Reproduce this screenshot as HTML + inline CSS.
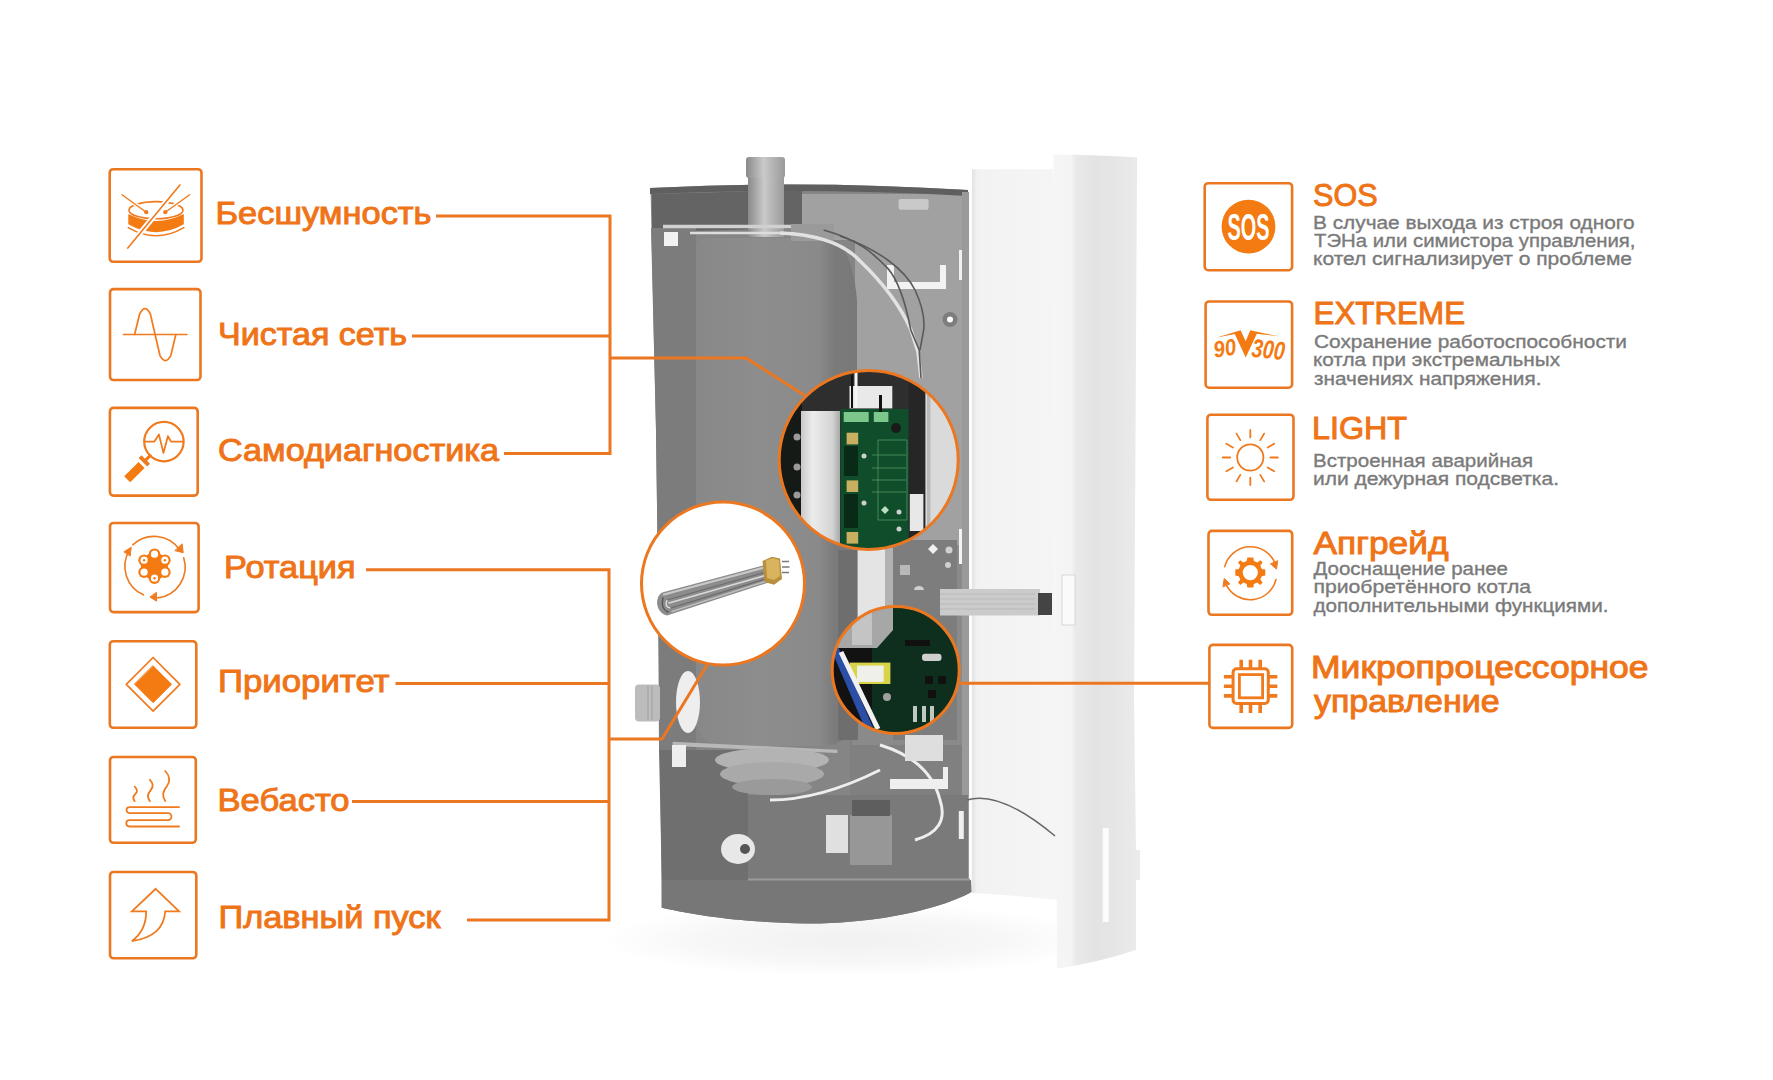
<!DOCTYPE html>
<html><head><meta charset="utf-8">
<style>
html,body{margin:0;padding:0;background:#fff;width:1773px;height:1080px;overflow:hidden}
svg{display:block}
.t{font-family:"Liberation Sans",sans-serif}
</style></head>
<body>
<svg width="1773" height="1080" viewBox="0 0 1773 1080">
<defs>
  <linearGradient id="doorL" x1="0" x2="1" y1="0" y2="0">
    <stop offset="0" stop-color="#e2e2e2"/><stop offset="0.06" stop-color="#f2f2f2"/><stop offset="1" stop-color="#f5f5f5"/>
  </linearGradient>
  <linearGradient id="doorR" x1="0" x2="1" y1="0" y2="0">
    <stop offset="0" stop-color="#f5f5f5"/><stop offset="0.2" stop-color="#f4f4f4"/><stop offset="0.26" stop-color="#e9e9e9"/><stop offset="0.5" stop-color="#e3e3e3"/><stop offset="0.72" stop-color="#e6e6e6"/><stop offset="1" stop-color="#ebebeb"/>
  </linearGradient>
  <linearGradient id="pipe" x1="0" x2="1" y1="0" y2="0">
    <stop offset="0" stop-color="#8a8a8a"/><stop offset="0.45" stop-color="#c9c9c9"/><stop offset="1" stop-color="#9a9a9a"/>
  </linearGradient>
  <radialGradient id="shadow" cx="0.5" cy="0.5" r="0.5">
    <stop offset="0" stop-color="#f1f1f1"/><stop offset="0.6" stop-color="#f7f7f7"/><stop offset="1" stop-color="#ffffff"/>
  </radialGradient>
  <linearGradient id="hs" x1="0" x2="1" y1="0" y2="0">
    <stop offset="0" stop-color="#c9c9c9"/><stop offset="0.3" stop-color="#ececec"/><stop offset="0.8" stop-color="#d4d4d4"/><stop offset="1" stop-color="#a9a9a9"/>
  </linearGradient>
  <linearGradient id="tank" x1="0" x2="1" y1="0" y2="0">
    <stop offset="0" stop-color="#888888"/><stop offset="0.4" stop-color="#8d8d8d"/><stop offset="0.76" stop-color="#8a8a8a"/><stop offset="0.86" stop-color="#7b7b7b"/><stop offset="1" stop-color="#787878"/>
  </linearGradient>
  <clipPath id="c1"><circle cx="868.7" cy="460" r="89.5"/></clipPath>
  <clipPath id="c2"><circle cx="723" cy="583.5" r="81.5"/></clipPath>
  <clipPath id="c3"><circle cx="895.7" cy="670" r="63.5"/></clipPath>
</defs>

<!-- ===== BOILER ===== -->
<g id="boiler">
  <ellipse cx="850" cy="940" rx="250" ry="36" fill="url(#shadow)"/>
  <!-- back body base -->
  <path d="M650.5,188 Q809,180 968,190 L971.6,892 C930,914 860,924 806,923.5 C740,922 700,916 661.7,907.7 L658,580 L656,430 Z" fill="#858585"/>
  <!-- right back panel (textured light) -->
  <path d="M802,194 L966,194 L966,545 L855,545 L855,240 L802,240 Z" fill="#a1a1a1"/>
  <rect x="850" y="740" width="116" height="60" fill="#808080"/>
  <!-- top inner dark area left of pipe -->
  <path d="M652,194 L802,190 L802,228 L652,232 Z" fill="#646464"/>
  <rect x="898.6" y="199" width="30" height="10.7" rx="2" fill="#c9c9c9"/>
  <!-- top rim -->
  <path d="M650,188 Q809,180 968,190 L968,196 Q809,187 650,194 Z" fill="#5f5f5f"/>
  <!-- left strip -->
  <path d="M651,228 L696,228 L696,750 L659,750 L658,580 L656,430 Z" fill="#7c7c7c"/>
  <!-- tank -->
  <path d="M696,248 Q696,238 708,238 L830,238 Q852,246 857,300 L857,715 Q852,746 820,746 L722,746 Q697,744 696,715 Z" fill="url(#tank)"/>
  <!-- PCB area right panel lower -->
  <rect x="852" y="545" width="114" height="200" fill="#8a8a8a"/>
  <rect x="838" y="550" width="20" height="190" fill="#6e6e6e"/>
  <rect x="857.6" y="548" width="28" height="70" fill="#e4e4e4"/>
  <rect x="885" y="548" width="8" height="70" fill="#b2b2b2"/>
  <rect x="893" y="540" width="64" height="200" fill="#7d7d7d"/>
  <rect x="959" y="529" width="8.5" height="35" fill="#f4f4f4"/>
  <path d="M933,544 l5,5 l-5,5 l-5,-5 Z" fill="#f0f0f0"/>
  <circle cx="949" cy="550" r="3.5" fill="#d0d0d0"/><circle cx="948" cy="565" r="3" fill="#d0d0d0"/>
  <rect x="900" y="565" width="10" height="10" fill="#b9b9b9"/>
  <path d="M914,590 a5,4 0 0 1 10,0 Z" fill="#cfcfcf"/>
  <!-- L bracket top right -->
  <path d="M887,265 L894,265 L894,282 L940,282 L940,265 L946,265 L946,289 L887,289 Z" fill="#f2f2f2"/>
  <rect x="959" y="250" width="8" height="30" fill="#f0f0f0"/>
  <circle cx="950" cy="319.5" r="7.5" fill="#7d7d7d"/><circle cx="950" cy="319.5" r="3" fill="#fff"/>
  <!-- panel right edge -->
  <rect x="962" y="192" width="7" height="700" fill="#9a9a9a"/><rect x="969" y="190" width="3" height="703" fill="#fbfbfb"/>
  <!-- left wall lower + bottom -->
  <path d="M659,750 L748,750 L748,880 L662,880 Z" fill="#6f6f6f"/>
  <rect x="748" y="795" width="220" height="86" fill="#7a7a7a"/>
  <path d="M662,880 L971,880 L971.6,892 C930,914 860,924 806,923.5 C740,922 700,916 661.7,907.7 Z" fill="#777777"/>
  <rect x="748" y="878.5" width="222" height="2" fill="#9b9b9b"/>
  <!-- mounting plate + flange -->
  <path d="M672.6,741.8 L837.4,749.7 L837.4,753 L672.6,746 Z" fill="#b8b8b8"/>
  <rect x="672" y="745" width="14" height="22" fill="#eeeeee"/>
  <ellipse cx="772" cy="760" rx="57" ry="12" fill="#b3b3b3"/>
  <ellipse cx="772" cy="774" rx="52" ry="12" fill="#a9a9a9"/>
  <ellipse cx="772" cy="787" rx="40" ry="8" fill="#9a9a9a"/>
  <!-- top pipe -->
  <rect x="748" y="177" width="36" height="60" fill="url(#pipe)"/>
  <rect x="746" y="157" width="39" height="21" rx="3" fill="url(#pipe)"/>
  <!-- rods / wires -->
  <path d="M663,226.5 L791,226.5" stroke="#d0d0d0" stroke-width="3.5" fill="none"/>
  <path d="M690,233 L783,233" stroke="#dcdcdc" stroke-width="2.5" fill="none"/>
  <rect x="664" y="232" width="14" height="14" fill="#f2f2f2"/>
  <path d="M791,224 L834,224 L834,241 L791,241 Z" fill="#9a9a9a"/>
  <path d="M780,233 C830,235 850,250 860,261 C880,280 900,305 911,330 L918,352 L921,378" fill="none" stroke="#e2e2e2" stroke-width="3.5"/>
  <path d="M823.6,230 C860,240 875,255 888,268.6 C898,280 905,300 910.8,330 L919.2,350 L921,378" fill="none" stroke="#5a5a5a" stroke-width="1.6"/>
  <path d="M840,236 C880,250 905,270 915,290 C922,305 925,318 923.7,330 L920,350" fill="none" stroke="#5a5a5a" stroke-width="1.6"/>
  <path d="M880,745 Q930,760 940,800 Q950,830 915,840" fill="none" stroke="#eeeeee" stroke-width="3"/>
  <path d="M770,800 Q820,800 880,770" fill="none" stroke="#eeeeee" stroke-width="3"/>
  <!-- side fitting -->
  <rect x="635" y="684.5" width="25" height="37" rx="4" fill="#bcbcbc"/><path d="M648,686 V720 M652,686 V720" stroke="#a5a5a5" stroke-width="1.2"/>
  <ellipse cx="688" cy="702" rx="12" ry="31" fill="#eeeeee"/>
  <!-- cable gland, labels, terminals -->
  <ellipse cx="738" cy="849" rx="17" ry="15" fill="#e8e8e8"/>
  <circle cx="745" cy="849" r="5" fill="#555"/>
  <rect x="826" y="815" width="22" height="38" fill="#e0e0e0"/>
  <rect x="850" y="815" width="42" height="50" fill="#979797"/><rect x="852" y="800" width="38" height="16" fill="#5e5e5e"/>
  <rect x="905" y="735" width="38" height="26" fill="#dedede"/>
  <path d="M890,779 L943,779 L943,767 L948,767 L948,789 L890,789 Z" fill="#efefef"/>
  <rect x="958.8" y="811" width="5" height="28" fill="#efefef"/>
  <!-- door -->
  <path d="M972,169.3 L1053.6,169.3 L1057,900 Q1010,895 972,893 Z" fill="url(#doorL)"/>
  <path d="M1053.6,154.6 Q1100,155 1137.1,157.4 L1134,700 L1136,850 L1140,850 L1140,880 L1136,880 L1136,950 Q1100,962 1057,968.7 Z" fill="url(#doorR)"/>
  <rect x="1102.7" y="828" width="6" height="94" fill="#fcfcfc"/>
  <!-- ribbon -->
  <path d="M940,589 L1040,589 L1040,615.4 L940,615.4 Z" fill="#cbcbcb"/><path d="M940,594 H1035 M940,599 H1035 M940,604 H1035 M940,609 H1035" stroke="#b5b5b5" stroke-width="0.8"/>
  <rect x="1038" y="593" width="14" height="22" fill="#444"/>
  <rect x="1062" y="575" width="13" height="50" fill="#fafafa" stroke="#cfcfcf" stroke-width="0.8"/>
  <path d="M967,800 Q1000,790 1055,836" fill="none" stroke="#666" stroke-width="1.5"/>
</g>
<!-- ===== LINES ===== -->
<g stroke="#EC7721" stroke-width="3" fill="none">
  <path d="M436,216 H610 V453.5 H504"/>
  <path d="M412,336 H610"/>
  <path d="M610,358 H746 L804,395"/>
  <path d="M366,569.8 H609 V920 H467"/>
  <path d="M395.5,683.6 H609"/>
  <path d="M352,801.5 H609"/>
  <path d="M609,739 H662 L707,665"/>
  <path d="M960,683.3 H1209"/>
</g>

<!-- ===== CIRCLES ===== -->
<g id="circ1">
  <circle cx="868.7" cy="460" r="89.5" fill="#2e2e2e"/>
  <g clip-path="url(#c1)">
    <rect x="776" y="365" width="26" height="200" fill="#151a17"/>
    <circle cx="797" cy="437" r="3.5" fill="#9a9a9a"/><circle cx="797" cy="467" r="3.5" fill="#9a9a9a"/><circle cx="797" cy="495" r="3.5" fill="#9a9a9a"/>
    <rect x="801" y="411" width="39" height="150" fill="url(#hs)"/>
    <rect x="840.7" y="409" width="68" height="152" fill="#0f4d2b"/>
    <path d="M878,440 H907 V520 H878 Z M872,455 H906 M872,468 H906 M872,480 H906 M872,492 H906" fill="none" stroke="#4f9a62" stroke-width="0.8"/>
    <rect x="843.7" y="412" width="25" height="10" fill="#7cc78c"/>
    <rect x="873.8" y="412" width="14.6" height="10" fill="#7cc78c"/>
    <rect x="846.6" y="432.7" width="11.6" height="11.7" fill="#c8b060"/>
    <rect x="846.6" y="480.4" width="11.6" height="11.6" fill="#c8b060"/>
    <rect x="846.6" y="532" width="11.6" height="11.6" fill="#c8b060"/>
    <rect x="844" y="446" width="14" height="30" fill="#0a2a18"/>
    <rect x="844" y="494" width="14" height="34" fill="#0a2a18"/>
    <circle cx="896" cy="428" r="5" fill="#1a1a1a"/>
    <circle cx="864" cy="456" r="2.5" fill="#cfcfcf"/><circle cx="864" cy="503" r="2.5" fill="#cfcfcf"/>
    <circle cx="899" cy="512" r="2.5" fill="#cfcfcf"/><circle cx="899" cy="529" r="2.5" fill="#cfcfcf"/>
    <path d="M881,510 l4,-4 l4,4 l-4,4 Z" fill="#b8e0c0"/>
    <rect x="908.8" y="380" width="17" height="180" fill="#262626"/>
    <rect x="925.4" y="365" width="35" height="200" fill="#dadada"/>
    <rect x="927" y="365" width="3.5" height="200" fill="#b9b9b9"/>
    <rect x="909.8" y="494" width="13.6" height="37" fill="#e8e8e8"/>
    <rect x="849.5" y="386" width="42.8" height="22.4" fill="#e9e9e9"/>
    <rect x="854.5" y="370" width="3" height="38" fill="#f5f5f5"/>
    <rect x="851" y="375" width="2" height="33" fill="#111"/>
    <rect x="879" y="395" width="3" height="17" fill="#111"/>
  </g>
  <circle cx="868.7" cy="460" r="89.5" fill="none" stroke="#EC7721" stroke-width="3"/>
</g>
<g id="circ2">
  <circle cx="723" cy="583.5" r="81.5" fill="#fff" stroke="#EC7721" stroke-width="3"/>
  <path d="M767,564.5 L663,592.2 C655,595 654,612 667,615.6 L768.4,582.6 Z" fill="#8c8c8c"/>
  <g fill="none" stroke-linecap="round">
    <path d="M664,594.5 L766,567" stroke="#c9c9c9" stroke-width="2.2"/>
    <path d="M667,600 L766,572" stroke="#6e6e6e" stroke-width="1.2"/>
    <path d="M669,603 L767,575" stroke="#d8d8d8" stroke-width="1.6"/>
    <path d="M671,608 L767,578.5" stroke="#6a6a6a" stroke-width="1.2"/>
    <path d="M672,611.5 L767,581" stroke="#bdbdbd" stroke-width="1.6"/>
    <path d="M663,598 C661,606 663,610 668,612" stroke="#555" stroke-width="1.4"/>
    <path d="M667,600.5 C665,604 666,607 670,608" stroke="#e8e8e8" stroke-width="1.2"/>
  </g>
  <path d="M762.5,561 L772,556.8 L780,558.5 L782,579 L774,584.8 L764.5,582 Z" fill="#b88f3e"/>
  <path d="M766,560.5 L773,558 L779,560 L780,576 L774,580 L767,578 Z" fill="#d9b45f"/>
  <path d="M782,561.5 h7 M782,567 h7.5 M782,572.5 h7" stroke="#7a7a7a" stroke-width="1.6"/>
</g>
<g id="circ3">
  <circle cx="895.7" cy="670" r="63.5" fill="#0e2f1d"/>
  <g clip-path="url(#c3)">
    <path d="M830,600 L893,600 L893,630 L877,648 L830,648 Z" fill="#a7a7a7"/>
    <path d="M852,605 L872,605 L872,645 L852,645 Z" fill="#c4c4c4"/>
    <path d="M830,648 L872,648 L872,740 L830,740 Z" fill="#121212"/>
    <rect x="849.6" y="662.6" width="40.8" height="21.4" fill="#d9d34a"/>
    <rect x="857" y="665.6" width="26.7" height="16.3" fill="#f0f0ea"/>
    <path d="M835,649 L869,728" stroke="#2b4ea6" stroke-width="7.5"/>
    <path d="M841,652 L878,729" stroke="#f2f2f2" stroke-width="5"/>
    <rect x="922" y="653.7" width="19.5" height="7.3" rx="3" fill="#cfcfcf"/>
    <rect x="905" y="640" width="25" height="6" fill="#111"/>
    <rect x="925" y="676" width="8" height="8" fill="#111"/><rect x="938" y="676" width="8" height="8" fill="#111"/>
    <rect x="928" y="690" width="8" height="8" fill="#111"/>
    <rect x="913" y="706" width="4" height="16" fill="#bfc9c2"/><rect x="922" y="706" width="4" height="16" fill="#bfc9c2"/><rect x="930" y="706" width="4" height="16" fill="#bfc9c2"/>
    <circle cx="887" cy="697" r="4" fill="#a0a0a0"/>
  </g>
  <circle cx="895.7" cy="670" r="63.5" fill="none" stroke="#EC7721" stroke-width="3"/>
</g>

<!-- ===== LEFT BOXES ===== -->
<g fill="none" stroke="#EC7721" stroke-width="2.6">
  <rect x="109.7" y="169.2" width="91.8" height="92.6" rx="3.5"/>
  <rect x="110" y="289.1" width="90.5" height="90.9" rx="3.5"/>
  <rect x="109.9" y="407.9" width="87.8" height="87.7" rx="3.5"/>
  <rect x="110" y="523" width="88.6" height="89.1" rx="3.5"/>
  <rect x="109.8" y="641.2" width="86.5" height="86.6" rx="3.5"/>
  <rect x="110" y="757" width="85.8" height="85.8" rx="3.5"/>
  <rect x="110" y="872" width="86.3" height="86.3" rx="3.5"/>
</g>
<!-- ===== RIGHT BOXES ===== -->
<g fill="none" stroke="#EC7721" stroke-width="2.6">
  <rect x="1204.7" y="183.2" width="87.4" height="87" rx="3.5"/>
  <rect x="1205.6" y="301.5" width="86.5" height="86.2" rx="3.5"/>
  <rect x="1207.4" y="414.7" width="86.1" height="85.1" rx="3.5"/>
  <rect x="1208.5" y="530.9" width="83.7" height="83.9" rx="3.5"/>
  <rect x="1209.4" y="644.9" width="82.8" height="83" rx="3.5"/>
</g>

<!-- ===== TEXT ===== -->
<g class="t">
  <text x="215.5" y="224.4" font-size="31.3" fill="#EF7418" stroke="#EF7418" stroke-width="0.95" textLength="216.05" lengthAdjust="spacingAndGlyphs">Бесшумность</text>
  <text x="218.0" y="345.1" font-size="31.3" fill="#EF7418" stroke="#EF7418" stroke-width="0.95" textLength="189.03" lengthAdjust="spacingAndGlyphs">Чистая сеть</text>
  <text x="218.0" y="460.7" font-size="31.3" fill="#EF7418" stroke="#EF7418" stroke-width="0.95" textLength="281.01" lengthAdjust="spacingAndGlyphs">Самодиагностика</text>
  <text x="224.0" y="578.2" font-size="31.3" fill="#EF7418" stroke="#EF7418" stroke-width="0.95" textLength="131.61" lengthAdjust="spacingAndGlyphs">Ротация</text>
  <text x="218.0" y="692" font-size="31.3" fill="#EF7418" stroke="#EF7418" stroke-width="0.95" textLength="171.53" lengthAdjust="spacingAndGlyphs">Приоритет</text>
  <text x="217.5" y="811.2" font-size="31.3" fill="#EF7418" stroke="#EF7418" stroke-width="0.95" textLength="132.1" lengthAdjust="spacingAndGlyphs">Вебасто</text>
  <text x="218.5" y="927.8" font-size="31.3" fill="#EF7418" stroke="#EF7418" stroke-width="0.95" textLength="222.02" lengthAdjust="spacingAndGlyphs">Плавный пуск</text>
  <text x="1313.0" y="205.8" font-size="31.5" fill="#EF7418" stroke="#EF7418" stroke-width="0.95" textLength="64.56" lengthAdjust="spacingAndGlyphs">SOS</text>
  <text x="1313.5" y="323.7" font-size="31.5" fill="#EF7418" stroke="#EF7418" stroke-width="0.95" textLength="151.56" lengthAdjust="spacingAndGlyphs">EXTREME</text>
  <text x="1312.0" y="438.8" font-size="31.5" fill="#EF7418" stroke="#EF7418" stroke-width="0.95" textLength="95.05" lengthAdjust="spacingAndGlyphs">LIGHT</text>
  <text x="1313.5" y="554.4" font-size="31.3" fill="#EF7418" stroke="#EF7418" stroke-width="0.95" textLength="135.0" lengthAdjust="spacingAndGlyphs">Апгрейд</text>
  <text x="1311.0" y="677.5" font-size="31" fill="#EF7418" stroke="#EF7418" stroke-width="0.95" textLength="337.53" lengthAdjust="spacingAndGlyphs">Микропроцессорное</text>
  <text x="1314.0" y="711.6" font-size="31" fill="#EF7418" stroke="#EF7418" stroke-width="0.95" textLength="185.5" lengthAdjust="spacingAndGlyphs">управление</text>
  <text x="1313.0" y="228.7" font-size="18.9" fill="#7a7a7a" stroke="#7a7a7a" stroke-width="0.35" textLength="321.51" lengthAdjust="spacingAndGlyphs">В случае выхода из строя одного</text>
  <text x="1314.0" y="246.9" font-size="18.9" fill="#7a7a7a" stroke="#7a7a7a" stroke-width="0.35" textLength="321.51" lengthAdjust="spacingAndGlyphs">ТЭНа или симистора управления,</text>
  <text x="1313.0" y="265.2" font-size="18.9" fill="#7a7a7a" stroke="#7a7a7a" stroke-width="0.35" textLength="319.01" lengthAdjust="spacingAndGlyphs">котел сигнализирует о проблеме</text>
  <text x="1314.0" y="347.7" font-size="18.9" fill="#7a7a7a" stroke="#7a7a7a" stroke-width="0.35" textLength="313.01" lengthAdjust="spacingAndGlyphs">Сохранение работоспособности</text>
  <text x="1313.0" y="366" font-size="18.9" fill="#7a7a7a" stroke="#7a7a7a" stroke-width="0.35" textLength="247.01" lengthAdjust="spacingAndGlyphs">котла при экстремальных</text>
  <text x="1314.0" y="384.7" font-size="18.9" fill="#7a7a7a" stroke="#7a7a7a" stroke-width="0.35" textLength="227.52" lengthAdjust="spacingAndGlyphs">значениях напряжения.</text>
  <text x="1313.0" y="466.6" font-size="18.9" fill="#7a7a7a" stroke="#7a7a7a" stroke-width="0.35" textLength="220.02" lengthAdjust="spacingAndGlyphs">Встроенная аварийная</text>
  <text x="1313.0" y="484.8" font-size="18.9" fill="#7a7a7a" stroke="#7a7a7a" stroke-width="0.35" textLength="246.03" lengthAdjust="spacingAndGlyphs">или дежурная подсветка.</text>
  <text x="1313.5" y="574.7" font-size="18.9" fill="#7a7a7a" stroke="#7a7a7a" stroke-width="0.35" textLength="194.5" lengthAdjust="spacingAndGlyphs">Дооснащение ранее</text>
  <text x="1313.5" y="592.6" font-size="18.9" fill="#7a7a7a" stroke="#7a7a7a" stroke-width="0.35" textLength="217.51" lengthAdjust="spacingAndGlyphs">приобретённого котла</text>
  <text x="1313.5" y="611.9" font-size="18.9" fill="#7a7a7a" stroke="#7a7a7a" stroke-width="0.35" textLength="295.0" lengthAdjust="spacingAndGlyphs">дополнительными функциями.</text>
</g>

<!-- ===== ICONS ===== -->
<g fill="none" stroke="#F07A1E" stroke-linecap="round" stroke-linejoin="round">
  <!-- 1 drum -->
  <g transform="translate(108.4,168)">
    <path d="M19.9,46.1 Q47.6,60 75.4,46.1 L75.4,56.3 Q47.6,72 19.9,56.3 Z" fill="#F47A12" stroke="none"/>
    <path d="M19.9,59.6 Q47.6,76 75.4,59.6" stroke-width="1.6"/>
    <ellipse cx="47.6" cy="42.2" rx="27" ry="8.6" stroke-width="1.6"/>
    <path d="M13.6,26.7 L37.9,44.2 M81.2,26.7 L56.9,44.2" stroke="#fff" stroke-width="4"/>
    <path d="M13.6,26.7 L37.9,44.2 M81.2,26.7 L56.9,44.2" stroke-width="1.4"/>
    <circle cx="37.9" cy="44.2" r="2.1" fill="#F07A1E" stroke="none"/>
    <circle cx="56.9" cy="44.2" r="2.1" fill="#F07A1E" stroke="none"/>
    <path d="M71.5,16.9 L19.4,80.1" stroke="#fff" stroke-width="5.5"/>
    <path d="M71.5,16.9 L19.4,80.1" stroke-width="1.6"/>
  </g>
  <!-- 2 sine -->
  <g transform="translate(108.7,287.8)" stroke-width="1.7">
    <path d="M14.8,46.7 H78.2"/>
    <path d="M25.9,46.7 L31,26 Q36.3,15.5 41.6,26 L51.2,67.5 Q56.7,78 62.2,67.5 L67.1,46.7"/>
  </g>
  <!-- 3 magnifier -->
  <g transform="translate(108.6,406.6)">
    <circle cx="55.3" cy="35" r="19.7" stroke-width="2.2"/>
    <path d="M36.4,35 H45.8 L50.3,27.8 L54.8,46.3 L59.3,29.6 L62.4,35 H74.1" stroke-width="1.8"/>
    <path d="M41.5,49 L36.5,54" stroke-width="3"/>
    <path d="M31.5,50 L40,58.5" stroke-width="4" stroke-linecap="butt"/>
    <path d="M33,58.3 L18.6,72.7" stroke-width="8.5" stroke-linecap="butt" stroke="#F47A12"/>
  </g>
  <!-- 4 rotation -->
  <g transform="translate(108.7,521.7)">
    <g fill="#F47A12" stroke="none">
      <circle cx="45.8" cy="44.5" r="13.5"/>
      <circle cx="45.8" cy="32.5" r="5.8"/>
      <circle cx="56.2" cy="38.5" r="5.8"/>
      <circle cx="56.2" cy="50.5" r="5.8"/>
      <circle cx="45.8" cy="56.5" r="5.8"/>
      <circle cx="35.4" cy="50.5" r="5.8"/>
      <circle cx="35.4" cy="38.5" r="5.8"/>
    </g>
    <g fill="#fff" stroke="none">
      <circle cx="45.8" cy="32.5" r="3.6"/>
      <circle cx="56.2" cy="38.5" r="3.6"/>
      <circle cx="56.2" cy="50.5" r="3.6"/>
      <circle cx="45.8" cy="56.5" r="3.6"/>
      <circle cx="35.4" cy="50.5" r="3.6"/>
      <circle cx="35.4" cy="38.5" r="3.6"/>
    </g>
    <g fill="#F47A12" stroke="none">
      <circle cx="56.2" cy="38.5" r="1.2"/>
      <circle cx="45.8" cy="56.5" r="1.2"/>
      <circle cx="35.4" cy="38.5" r="1.2"/>
    </g>
    <path d="M24.1,23.1 A31,31 0 0 1 70.5,27.5" stroke-width="1.6"/>
    <path d="M75,36.1 A31,31 0 0 1 49,76.2" stroke-width="1.6"/>
    <path d="M34.7,73.1 A31,31 0 0 1 20.5,29" stroke-width="1.6"/>
    <path d="M73.5,22.5 L74.5,31 L66.5,29 Z" fill="#F07A1E" stroke-width="1"/>
    <path d="M47.7,71 L47.9,79.5 L41.5,75.5 Z" fill="#F07A1E" stroke-width="1"/>
    <path d="M15.5,30 L22.5,25.5 L21.5,34 Z" fill="#F07A1E" stroke-width="1"/>
  </g>
  <!-- 5 priority -->
  <g transform="translate(108.5,639.9)">
    <path d="M44.6,17.6 L71.4,44.4 L44.6,71.2 L17.8,44.4 Z" stroke-width="1.7"/>
    <path d="M44.6,26 L63,44.4 L44.6,62.8 L26.2,44.4 Z" fill="#F47A12" stroke="#F47A12" stroke-width="1"/>
  </g>
  <!-- 6 webasto -->
  <g transform="translate(108.7,755.7)" stroke-width="1.8">
    <path d="M70.4,51.4 H20.8 A3,3 0 0 0 20.8,57.4 H59.3 A3.5,3.5 0 0 1 59.3,64.4 H20.8 A3.2,3.2 0 0 0 20.8,70.8 H70.4"/>
    <path d="M26,31 C29,34 29,36 26.5,38.5 C24,41 24,43 26,45.4"/>
    <path d="M41.2,24.1 C45,28 45,31 42,34.5 C38.5,38.5 38.5,42 41.2,45.4"/>
    <path d="M56.5,15.3 C61,20 62,25 58.5,30 C54,36 53,40 56.5,45.4"/>
  </g>
  <!-- 7 arrow -->
  <g transform="translate(108.7,870.7)" stroke-width="1.8" stroke-linejoin="miter">
    <path d="M47,18.1 L70.4,40.6 L56.5,40.6 Q55,66 23.2,70.4 Q37.5,60 37.5,40.6 L23.2,40.6 Z"/>
  </g>
  <!-- R1 SOS -->
  <g transform="translate(1203.4,181.9)">
    <circle cx="45.1" cy="44.7" r="26.9" fill="#F47A12" stroke="none"/>
    <text x="45.1" y="57.8" text-anchor="middle" class="t" font-weight="700" font-size="36" fill="#fff" stroke="none" textLength="42" lengthAdjust="spacingAndGlyphs">SOS</text>
  </g>
  <!-- R2 90V300 -->
  <g transform="translate(1204.3,300.2)" fill="#F47A12" stroke="none">
    <path d="M11.8,37.5 L36.3,30.1 L41.4,41 L46,30.1 L74.3,36.1 L52.5,33.6 L41.4,57.4 L30.5,33.9 Z"/>
    <text x="0" y="0" transform="translate(10.5,57.6) rotate(-9)" class="t" font-weight="700" font-style="italic" font-size="23" textLength="22.5" lengthAdjust="spacingAndGlyphs">90</text>
    <text x="0" y="0" transform="translate(46.8,56.5) rotate(6)" class="t" font-weight="700" font-style="italic" font-size="26" textLength="33" lengthAdjust="spacingAndGlyphs">300</text>
  </g>
  <!-- R3 sun -->
  <g transform="translate(1206.1,413.4)" stroke-width="1.8">
    <circle cx="44.2" cy="44.1" r="13.1"/>
    <g id="rays">
      <path d="M44.2,16.5 V24 M44.2,64.2 V71.7 M16.6,44.1 H24.1 M64.3,44.1 H71.8"/>
      <path d="M30.4,20.2 L34.2,26.7 M54.2,61.5 L58,68 M20.3,30.3 L26.8,34.1 M61.6,54.1 L68.1,57.9"/>
      <path d="M58,20.2 L54.2,26.7 M34.2,61.5 L30.4,68 M68.1,30.3 L61.6,34.1 M26.8,54.1 L20.3,57.9"/>
    </g>
  </g>
  <!-- R4 gear -->
  <g transform="translate(1207.2,529.6)">
    <g transform="translate(43.1,43)" fill="#F47A12" stroke="none">
      <path id="gear" d="M-3,-15 H3 L3.6,-11.5 L7,-10 L10,-12.3 L12.3,-10 L10,-7 L11.5,-3.6 L15,-3 V3 L11.5,3.6 L10,7 L12.3,10 L10,12.3 L7,10 L3.6,11.5 L3,15 H-3 L-3.6,11.5 L-7,10 L-10,12.3 L-12.3,10 L-10,7 L-11.5,3.6 L-15,3 V-3 L-11.5,-3.6 L-10,-7 L-12.3,-10 L-10,-12.3 L-7,-10 L-3.6,-11.5 Z M7.6,0 A7.6,7.6 0 1 0 -7.6,0 A7.6,7.6 0 1 0 7.6,0 Z" fill-rule="evenodd"/>
    </g>
    <path d="M17.5,37 A26.6,26.6 0 0 1 68,34" stroke-width="1.6"/>
    <path d="M68.8,50 A26.6,26.6 0 0 1 19,55" stroke-width="1.6"/>
    <path d="M70.5,31.5 L69.3,39.5 L63.5,34.5 Z" fill="#F07A1E" stroke-width="1"/>
    <path d="M15.8,57 L17,49 L22.5,54 Z" fill="#F07A1E" stroke-width="1"/>
  </g>
  <!-- R5 chip -->
  <g transform="translate(1208.1,643.6)" stroke-linecap="butt" stroke-linejoin="miter">
    <rect x="25" y="25.2" width="35.2" height="34.7" rx="3.5" stroke-width="3"/>
    <rect x="31.3" y="31" width="23.2" height="23.2" stroke-width="2.8"/>
    <path d="M33.1,16.2 V25 M42.4,16.2 V25 M52.1,16.2 V25 M33.1,60.5 V69.4 M42.4,60.5 V69.4 M52.1,60.5 V69.4 M15.8,33.1 H24.5 M15.8,42.7 H24.5 M15.8,52.3 H24.5 M60.8,33.1 H69.2 M60.8,42.7 H69.2 M60.8,52.3 H69.2" stroke-width="3.6"/>
  </g>
</g>

</svg>
</body></html>
